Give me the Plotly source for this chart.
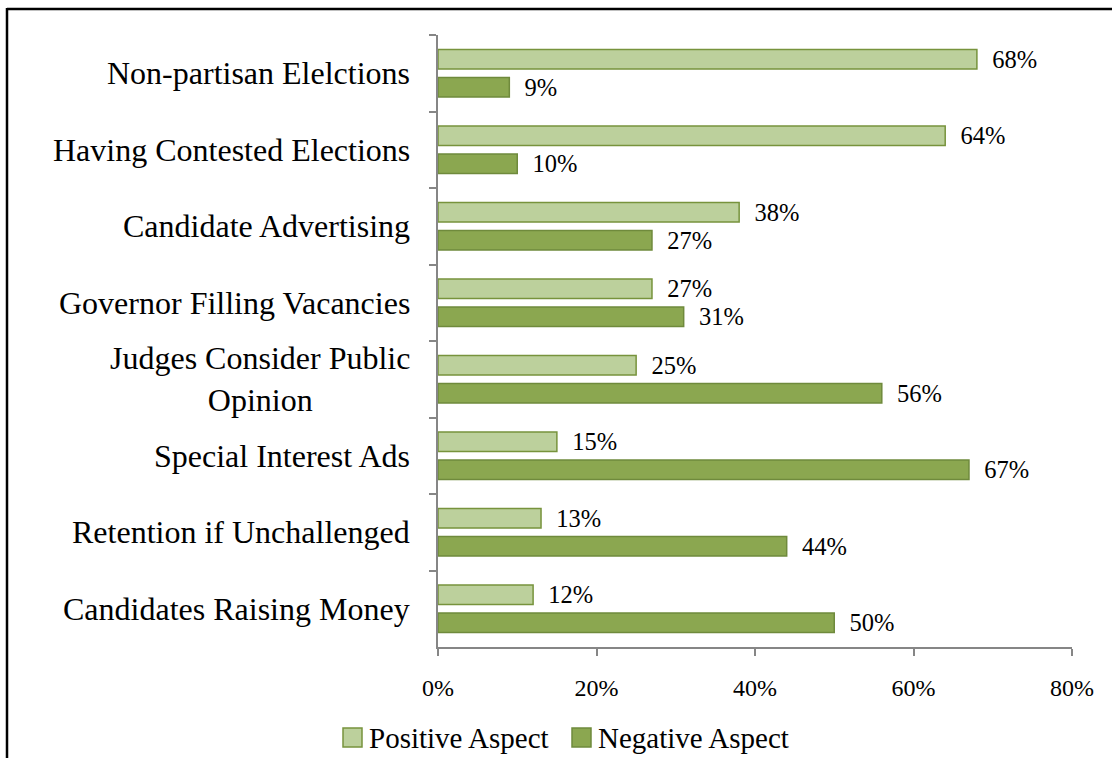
import plotly.graph_objects as go

# Survey results: share of respondents calling each feature positive / negative
categories = [
    "Non-partisan Elelctions",
    "Having Contested Elections",
    "Candidate Advertising",
    "Governor Filling Vacancies",
    "Judges Consider Public<br>Opinion",
    "Special Interest Ads",
    "Retention if Unchallenged",
    "Candidates Raising Money",
]
positive = [68, 64, 38, 27, 25, 15, 13, 12]
negative = [9, 10, 27, 31, 56, 67, 44, 50]
series_names = ["Positive Aspect", "Negative Aspect"]
x_ticks = [0, 20, 40, 60, 80]
x_tick_labels = [f"{v}%" for v in x_ticks]

W, H = 1112, 758
ML, MR, MT, MB = 438, 40, 35, 111
PW, PH = W - ML - MR, H - MT - MB

FONT = "Liberation Serif, Times New Roman, serif"
fills = ["#BCD09C", "#8BA750"]
edges = ["#77933C", "#6F8A3C"]

fig = go.Figure()
for name, vals, fc, ec in zip(series_names, [positive, negative], fills, edges):
    fig.add_trace(go.Bar(
        y=categories, x=vals, name=name, orientation="h",
        marker=dict(color=fc, line=dict(color=ec, width=1.5)),
        text=[f"\u00a0\u00a0{v}%" for v in vals], texttemplate="%{text}",
        textposition="outside", constraintext="none",
        textfont=dict(family=FONT, size=24.5, color="#000000"),
        cliponaxis=False, showlegend=False,
    ))


def px_x(p):
    return (p - ML) / PW


def px_y(p):
    return (H - MB - p) / PH


# category labels, centred line by line and right-aligned to the axis
annotations = []
for c in categories:
    annotations.append(dict(
        x=0, xref="paper", xshift=-26, xanchor="right",
        y=c, yref="y", yanchor="middle", align="center",
        text=c, showarrow=False,
        font=dict(family=FONT, size=32, color="#000000"),
    ))

# hand-drawn legend below the axis
shapes = []
legend_items = [(343, 367), (572, 596)]
for (sx, tx), name, fc, ec in zip(legend_items, series_names, fills, edges):
    shapes.append(dict(
        type="rect", xref="paper", yref="paper",
        x0=px_x(sx), x1=px_x(sx + 19), y0=px_y(728), y1=px_y(747),
        fillcolor=fc, line=dict(color=ec, width=1.5),
    ))
    annotations.append(dict(
        x=px_x(tx), xref="paper", xanchor="left",
        y=px_y(738), yref="paper", yanchor="middle",
        text=name, showarrow=False,
        font=dict(family=FONT, size=29, color="#000000"),
    ))

# chart frame (top and left edges)
shapes.append(dict(type="line", xref="paper", yref="paper",
                   x0=px_x(7), x1=px_x(W + 5), y0=px_y(9), y1=px_y(9),
                   line=dict(color="#000000", width=2.5)))
shapes.append(dict(type="line", xref="paper", yref="paper",
                   x0=px_x(7), x1=px_x(7), y0=px_y(8), y1=px_y(H + 5),
                   line=dict(color="#000000", width=2.5)))

fig.update_layout(
    width=W, height=H,
    margin=dict(l=ML, r=MR, t=MT, b=MB, autoexpand=False),
    paper_bgcolor="#FFFFFF", plot_bgcolor="#FFFFFF",
    barmode="group", bargap=0.27, bargroupgap=0.3,
    font=dict(family=FONT, color="#000000"),
    annotations=annotations, shapes=shapes,
    xaxis=dict(
        range=[0, 80], tickvals=x_ticks, ticktext=x_tick_labels,
        showgrid=False, zeroline=False,
        showline=True, linecolor="#868686", linewidth=1.5,
        ticks="outside", ticklen=7, tickcolor="#868686", tickwidth=1.5,
        ticklabelstandoff=11,
        tickfont=dict(family=FONT, size=24, color="#000000"),
    ),
    yaxis=dict(
        autorange="reversed", showticklabels=False,
        showgrid=False, zeroline=False,
        showline=True, linecolor="#868686", linewidth=1.5,
        ticks="outside", ticklen=7, tickcolor="#868686", tickwidth=1.5,
        tickson="boundaries",
    ),
)

fig.write_html("out.html")
